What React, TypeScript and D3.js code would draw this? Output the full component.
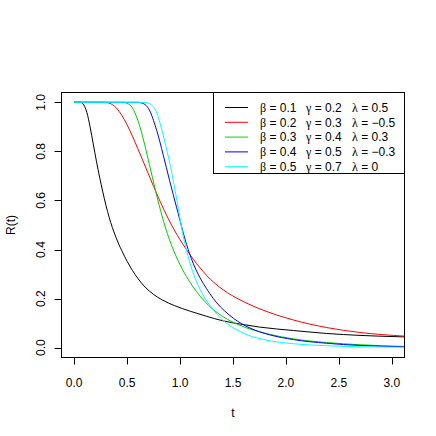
import React from "react";
import * as d3 from "d3";

// [t, R(t)] pairs
const blackPts: [number, number][] = [
  [0, 1], [0.06, 1], [0.08, 0.995], [0.1, 0.982], [0.12, 0.958], [0.15, 0.9], [0.18, 0.83],
  [0.21, 0.76], [0.24, 0.695], [0.27, 0.635], [0.3, 0.58], [0.33, 0.532], [0.36, 0.49],
  [0.39, 0.455], [0.42, 0.423], [0.45, 0.395], [0.5, 0.352], [0.55, 0.315], [0.6, 0.283],
  [0.67, 0.247], [0.75, 0.217], [0.83, 0.195], [0.95, 0.171], [1.1, 0.148], [1.25, 0.128],
  [1.4, 0.11], [1.57, 0.096], [1.75, 0.084], [2.07, 0.07], [2.385, 0.058], [2.7, 0.05], [3.12, 0.044],
];
const redPts: [number, number][] = [
  [0, 1], [0.28, 1], [0.32, 0.998], [0.36, 0.991], [0.4, 0.976], [0.45, 0.947], [0.5, 0.908],
  [0.55, 0.862], [0.6, 0.812], [0.65, 0.761], [0.7, 0.709], [0.75, 0.657], [0.8, 0.607],
  [0.85, 0.56], [0.9, 0.516], [0.95, 0.476], [1.0, 0.44], [1.06, 0.4], [1.125, 0.36],
  [1.19, 0.325], [1.25, 0.295], [1.33, 0.262], [1.41, 0.235], [1.566, 0.195], [1.755, 0.158],
  [2.07, 0.113], [2.385, 0.082], [2.7, 0.062], [3.12, 0.047],
];
const greenPts: [number, number][] = [
  [0, 1], [0.46, 1], [0.5, 0.996], [0.53, 0.988], [0.56, 0.97], [0.59, 0.94], [0.62, 0.902],
  [0.65, 0.855], [0.68, 0.802], [0.71, 0.747], [0.74, 0.692], [0.77, 0.637], [0.8, 0.585],
  [0.83, 0.537], [0.86, 0.492], [0.9, 0.44], [0.95, 0.385], [1.0, 0.338], [1.06, 0.29],
  [1.12, 0.25], [1.19, 0.21], [1.27, 0.172], [1.35, 0.143], [1.45, 0.115], [1.55, 0.094],
  [1.66, 0.076], [1.85, 0.054], [2.07, 0.036], [2.385, 0.021], [2.7, 0.012], [3.12, 0.005],
];
const bluePts: [number, number][] = [
  [0, 1], [0.6, 1], [0.64, 0.997], [0.68, 0.987], [0.72, 0.96], [0.75, 0.925], [0.78, 0.885],
  [0.81, 0.838], [0.84, 0.787], [0.87, 0.735], [0.9, 0.683], [0.935, 0.625], [0.968, 0.57],
  [1.0, 0.518], [1.03, 0.468], [1.062, 0.42], [1.09, 0.383], [1.125, 0.343], [1.17, 0.3],
  [1.219, 0.262], [1.28, 0.221], [1.346, 0.183], [1.42, 0.15], [1.503, 0.12], [1.58, 0.098],
  [1.661, 0.08], [1.75, 0.065], [1.85, 0.052], [2.07, 0.033], [2.385, 0.018], [2.7, 0.009], [3.12, 0.004],
];
const cyanPts: [number, number][] = [
  [0, 1], [0.66, 1], [0.7, 0.997], [0.73, 0.99], [0.76, 0.975], [0.79, 0.945], [0.82, 0.9],
  [0.85, 0.85], [0.88, 0.795], [0.91, 0.738], [0.94, 0.672], [0.97, 0.6], [1.0, 0.525],
  [1.03, 0.455], [1.06, 0.398], [1.09, 0.35], [1.12, 0.31], [1.15, 0.275], [1.19, 0.237],
  [1.24, 0.198], [1.29, 0.168], [1.35, 0.136], [1.41, 0.11], [1.48, 0.087], [1.566, 0.066],
  [1.65, 0.05], [1.724, 0.04], [1.85, 0.028], [2.07, 0.016], [2.385, 0.008], [2.7, 0.004], [3.12, 0.002],
];

const seriesColors = ["#000000", "#FF0000", "#00CD00", "#0000FF", "#00FFFF"];
const betas = ["0.1", "0.2", "0.3", "0.4", "0.5"];
const gammas = ["0.2", "0.3", "0.4", "0.5", "0.7"];
const lambdas = ["0.5", "\u22120.5", "0.3", "\u22120.3", "0"];
const xTicks = [0, 0.5, 1, 1.5, 2, 2.5, 3];
const yTicks = [0, 0.2, 0.4, 0.6, 0.8, 1.0];
const xLabel = "t";
const yLabel = "R(t)";

const W = 436, H = 436;
const L = 61.5, R = 404.5, T = 92.5, B = 357.5;
const FONT = "'Liberation Sans', Arial, Helvetica, sans-serif";
const GREEK = "'Liberation Serif', 'DejaVu Serif', serif";

export default function App() {
  const series = [blackPts, redPts, greenPts, bluePts, cyanPts];
  const x = d3.scaleLinear().domain([-0.12, 3.12]).range([L, R]);
  const y = d3.scaleLinear().domain([-0.04, 1.04]).range([B, T]);
  const line = d3
    .line<[number, number]>()
    .x((d) => x(d[0]))
    .y((d) => y(d[1]))
    .curve(d3.curveMonotoneX);

  const legL = 213.5, legT = T, legR = R, legB = 173.5;
  const rowY0 = 107.5, rowDy = 14.8;
  const colX = [260, 306, 352];
  const greekLetters = ["β", "γ", "λ"];
  const colVals = [betas, gammas, lambdas];

  return (
    <svg width={W} height={H} style={{ display: "block", position: "absolute", left: 0, top: 0, background: "#fff" }}>
      <rect x={0} y={0} width={W} height={H} fill="#fff" />
      <defs>
        <clipPath id="plotclip">
          <rect x={L} y={T} width={R - L} height={B - T} />
        </clipPath>
      </defs>
      <g clipPath="url(#plotclip)">
        {series.map((s, i) => (
          <path key={i} d={line(s) || ""} fill="none" stroke={seriesColors[i]} strokeWidth={1} />
        ))}
      </g>
      <rect x={L} y={T} width={R - L} height={B - T} fill="none" stroke="#000" strokeWidth={1} />
      {xTicks.map((v) => (
        <g key={"x" + v}>
          <line x1={Math.round(x(v)) + 0.5} x2={Math.round(x(v)) + 0.5} y1={B} y2={B + 7} stroke="#000" />
          <text x={x(v)} y={386.5} fontFamily={FONT} fontSize={12} textAnchor="middle">
            {v.toFixed(1)}
          </text>
        </g>
      ))}
      {yTicks.map((v) => (
        <g key={"y" + v}>
          <line x1={L - 7} x2={L} y1={Math.round(y(v)) + 0.5} y2={Math.round(y(v)) + 0.5} stroke="#000" />
          <text
            transform={`translate(44.5,${y(v)}) rotate(-90)`}
            fontFamily={FONT}
            fontSize={12}
            textAnchor="middle"
          >
            {v.toFixed(1)}
          </text>
        </g>
      ))}
      <text x={(L + R) / 2} y={417} fontFamily={FONT} fontSize={12} textAnchor="middle">
        {xLabel}
      </text>
      <text transform={`translate(14.5,${(T + B) / 2}) rotate(-90)`} fontFamily={FONT} fontSize={12} textAnchor="middle">
        {yLabel}
      </text>
      <rect x={legL} y={legT} width={legR - legL} height={legB - legT} fill="#fff" stroke="#000" strokeWidth={1} />
      {seriesColors.map((c, i) => {
        const yy = rowY0 + i * rowDy;
        return (
          <g key={"leg" + i}>
            <line x1={225} x2={248} y1={yy} y2={yy} stroke={c} strokeWidth={1} />
            {colX.map((cx, j) => (
              <text key={j} x={cx} y={yy + 4.3} fontFamily={FONT} fontSize={12} xmlSpace="preserve">
                <tspan fontFamily={GREEK}>{greekLetters[j]}</tspan>
                {" = " + colVals[j][i]}
              </text>
            ))}
          </g>
        );
      })}
    </svg>
  );
}
